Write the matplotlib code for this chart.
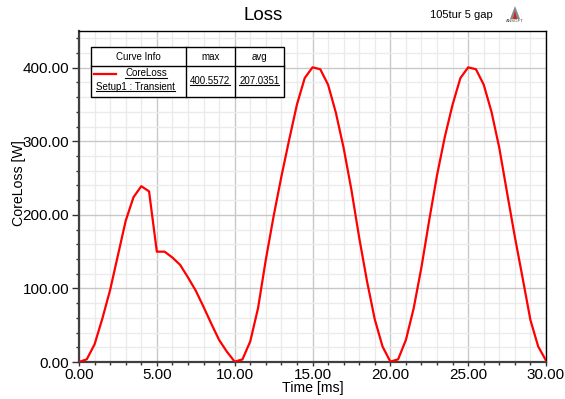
import matplotlib
matplotlib.use("Agg")
import matplotlib.pyplot as plt
from matplotlib.ticker import MultipleLocator, FormatStrFormatter
from matplotlib.lines import Line2D
from matplotlib.patches import Rectangle, Polygon

plt.rcParams['font.family'] = ['Liberation Sans', 'DejaVu Sans']

# ---- data ----
time_ms = [0.0, 0.5, 1.0, 1.5, 2.0, 2.5, 3.0, 3.5, 4.0, 4.5,
           5.0, 5.5, 6.0, 6.5, 7.0, 7.5, 8.0, 8.5, 9.0, 9.5,
           10.0, 10.5, 11.0, 11.5, 12.0, 12.5, 13.0, 13.5, 14.0, 14.5,
           15.0, 15.5, 16.0, 16.5, 17.0, 17.5, 18.0, 18.5, 19.0, 19.5,
           20.0, 20.5, 21.0, 21.5, 22.0, 22.5, 23.0, 23.5, 24.0, 24.5,
           25.0, 25.5, 26.0, 26.5, 27.0, 27.5, 28.0, 28.5, 29.0, 29.5,
           30.0]
core_loss = [0.0, 3.7, 24, 59, 98, 145, 192, 224, 239, 232,
             150, 150, 142, 132, 115, 97, 75, 52, 30, 14,
             0.5, 3.5, 28, 73, 139, 198, 252, 302, 350, 386,
             400.6, 398, 377, 339, 291, 234, 169, 110, 58, 21,
             0.5, 3.6, 30, 73, 129, 193, 254, 306, 350, 386,
             400.6, 398, 377, 340, 291, 230, 170, 114, 57, 21,
             2.0]
curve_name = "CoreLoss"
curve_setup = "Setup1 : Transient"
stat_headers = ["Curve Info", "max", "avg"]
stat_values = ["400.5572", "207.0351"]
title = "Loss"
subtitle = "105tur 5 gap"

W, H = 565, 399
fig = plt.figure(figsize=(W / 100, H / 100), dpi=100)

def fx(x):
    return x / W

def fy(y):
    return 1 - y / H

ax_l, ax_r, ax_t, ax_b = 79, 546, 31, 362
ax = fig.add_axes([fx(ax_l), fy(ax_b), (ax_r - ax_l) / W, (ax_b - ax_t) / H])

ax.plot(time_ms, core_loss, color='#ff0000', lw=1.6, zorder=3)
ax.set_xlim(0, 30)
ax.set_ylim(0, 450)

ax.xaxis.set_major_locator(MultipleLocator(5))
ax.xaxis.set_minor_locator(MultipleLocator(1))
ax.yaxis.set_major_locator(MultipleLocator(100))
ax.yaxis.set_minor_locator(MultipleLocator(20))
ax.xaxis.set_major_formatter(FormatStrFormatter('%.2f'))
ax.yaxis.set_major_formatter(FormatStrFormatter('%.2f'))

ax.grid(which='major', color='#c8c8c8', lw=1.0, zorder=0)
ax.grid(which='minor', color='#ebebeb', lw=1.0, zorder=0)
ax.set_axisbelow(True)

ax.tick_params(axis='y', which='major', direction='out', length=5, width=1,
               labelsize=11, pad=2, colors='#333333', labelcolor='black')
ax.tick_params(axis='x', which='major', direction='out', length=3, width=1,
               labelsize=11, pad=1.5, colors='#333333', labelcolor='black')
ax.tick_params(axis='both', which='minor', direction='out', length=2.5, width=1,
               colors='#333333')
ax.tick_params(top=False, right=False)

for s in ['left', 'bottom']:
    ax.spines[s].set_linewidth(1.6)
    ax.spines[s].set_color('#404040')
for s in ['top', 'right']:
    ax.spines[s].set_linewidth(1.0)
    ax.spines[s].set_color('black')

ax.set_xlabel('Time [ms]', fontsize=10.2)
ax.set_ylabel('CoreLoss [W]', fontsize=10.2)
ax.xaxis.set_label_coords(0.5, -0.058)
ax.yaxis.set_label_coords(-0.114, 0.542)

# title & annotations
fig.text(fx(263), fy(15), title, fontsize=13.5, ha='center', va='center')
fig.text(fx(430), fy(15), subtitle, fontsize=8, ha='left', va='center')
# small ANSOFT logo
fig.patches.append(Polygon([(fx(510), fy(19)), (fx(520), fy(19)), (fx(515), fy(6))],
                           closed=True, transform=fig.transFigure,
                           facecolor='#888888', edgecolor='none'))
fig.patches.append(Polygon([(fx(513), fy(19)), (fx(517), fy(19)), (fx(515), fy(11))],
                           closed=True, transform=fig.transFigure,
                           facecolor='#d02020', edgecolor='none'))
fig.text(fx(515), fy(21.5), 'ANSOFT', fontsize=3.2, ha='center', va='center',
         color='#444444')

# legend table
bx0, bx1, by0, by1 = 90.5, 284, 47, 97
c1, c2 = 186, 234.5
rowsep = 66
fig.patches.append(Rectangle((fx(bx0), fy(by1)), (bx1 - bx0) / W, (by1 - by0) / H,
                             transform=fig.transFigure, facecolor='white',
                             edgecolor='black', lw=1.0, zorder=5))
for xx in [c1, c2]:
    fig.lines.append(Line2D([fx(xx), fx(xx)], [fy(by0), fy(by1)],
                            transform=fig.transFigure, color='black', lw=1.0, zorder=6))
fig.lines.append(Line2D([fx(bx0), fx(bx1)], [fy(rowsep), fy(rowsep)],
                        transform=fig.transFigure, color='black', lw=1.0, zorder=6))

fs = 7
hdr_y = 56.5
fig.text(fx((bx0 + c1) / 2), fy(hdr_y), stat_headers[0], fontsize=fs, ha='center', va='center', zorder=7)
fig.text(fx((c1 + c2) / 2), fy(hdr_y), stat_headers[1], fontsize=fs, ha='center', va='center', zorder=7)
fig.text(fx((c2 + bx1) / 2), fy(hdr_y), stat_headers[2], fontsize=fs, ha='center', va='center', zorder=7)

fig.lines.append(Line2D([fx(94), fx(116)], [fy(74), fy(74)], transform=fig.transFigure,
                        color='#ff0000', lw=1.6, zorder=7))
underlined = [
    fig.text(fx(146), fy(73.5), curve_name, fontsize=fs, ha='center', va='center', zorder=7),
    fig.text(fx(135.5), fy(86.5), curve_setup, fontsize=fs, ha='center', va='center', zorder=7),
    fig.text(fx((c1 + c2) / 2), fy(80.5), stat_values[0], fontsize=fs, ha='center', va='center', zorder=7),
    fig.text(fx((c2 + bx1) / 2), fy(80.5), stat_values[1], fontsize=fs, ha='center', va='center', zorder=7),
]
fig.canvas.draw()
r = fig.canvas.get_renderer()
for t in underlined:
    bb = t.get_window_extent(r)
    yline = bb.y0 + 0.5
    fig.lines.append(Line2D([bb.x0 / W, bb.x1 / W], [yline / H, yline / H],
                            transform=fig.transFigure, color='black', lw=0.8, zorder=7))

fig.savefig('out.png', dpi=100)
